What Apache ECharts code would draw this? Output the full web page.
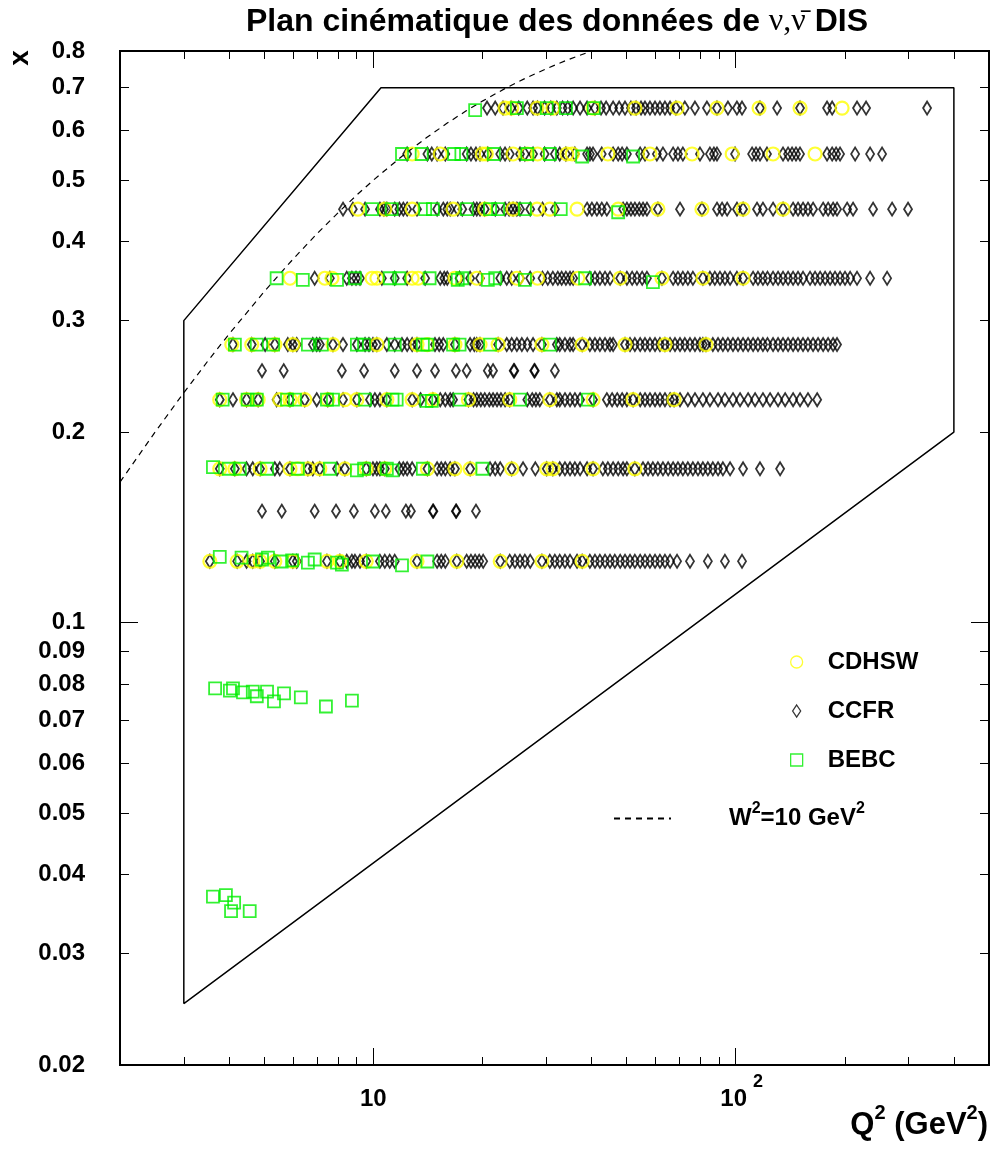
<!DOCTYPE html>
<html><head><meta charset="utf-8">
<script src="https://cdn.jsdelivr.net/npm/echarts@6/dist/echarts.min.js"></script>
<style>html,body{margin:0;padding:0;background:#fff}#c{width:991px;height:1156px}</style>
</head><body><div id="c"></div>
<script>
// ---------------- data ----------------
const cdhswBins = [0.65, 0.55, 0.45, 0.35, 0.275, 0.225, 0.175, 0.125];
const cdhswQ2 = [
  [23.1, 24.1, 28.3, 31.3, 40.4, 52.7, 68.9, 88.8, 116.0, 150.5, 196.6],
  [12.8, 15.3, 20.0, 20.5, 24.3, 26.6, 28.4, 34.2, 35.4, 44.4, 58.0, 75.8, 97.8, 126.8, 165.6],
  [9.07, 10.76, 12.8, 16.6, 20.3, 24.3, 28.3, 30.7, 36.5, 47.4, 61.0, 80.7, 104.8, 135.1],
  [5.89, 7.35, 7.69, 9.92, 10.23, 12.8, 13.3, 16.8, 19.3, 24.9, 28.4, 36.7, 48.0, 62.6, 81.2, 104.8],
  [4.07, 4.62, 5.35, 6.00, 7.74, 10.23, 13.2, 14.1, 16.8, 19.7, 22.1, 29.2, 37.7, 49.5, 63.8, 82.8],
  [3.77, 4.47, 4.81, 5.52, 5.89, 6.47, 7.49, 8.35, 9.01, 10.9, 12.8, 14.6, 18.3, 23.8, 30.7, 40.4, 52.1, 67.6],
  [3.77, 4.15, 4.87, 5.89, 6.19, 6.60, 7.12, 8.35, 9.56, 10.76, 14.1, 16.8, 18.5, 24.1, 30.1, 31.3, 40.4, 52.7],
  [3.54, 4.21, 4.65, 4.87, 5.35, 6.00, 7.45, 8.09, 9.56, 13.2, 17.0, 22.4, 29.2, 37.7]
];
const ccfrBins = [0.65, 0.55, 0.45, 0.35, 0.275, 0.25, 0.225, 0.175, 0.15, 0.125];
const ccfrQ2 = [
  [20.6, 21.7, 22.8, 24.0, 25.2, 26.6, 27.6, 28.4, 29.7, 30.9, 32.1, 33.3, 34.4, 35.6, 37.2, 38.9, 40.9, 42.5, 43.9, 45.9, 47.7, 49.5, 51.4, 53.1, 54.8, 56.2, 58.0, 59.9, 61.8, 63.8, 65.9, 68.4, 72.4, 77.2, 83.3, 88.8, 95.2, 100.8, 104.1, 116.7, 130.1, 150.5, 178.7, 184.6, 216.2, 229.0, 337.4],
  [12.4, 14.1, 14.5, 15.0, 15.8, 18.1, 18.6, 19.2, 19.7, 20.7, 22.4, 23.1, 23.8, 25.4, 26.2, 27.6, 29.7, 31.7, 32.7, 34.0, 36.0, 38.9, 39.6, 40.4, 42.7, 45.9, 47.4, 48.6, 50.1, 54.5, 56.2, 60.6, 63.0, 67.2, 69.3, 71.5, 79.7, 84.9, 87.1, 88.8, 99.6, 111.0, 113.8, 116.7, 122.0, 135.1, 139.5, 143.1, 146.7, 150.5, 178.7, 184.6, 189.3, 194.1, 213.6, 234.9, 253.5],
  [8.25, 8.78, 9.49, 10.43, 10.70, 10.90, 11.46, 11.8, 12.1, 12.4, 13.2, 15.0, 15.6, 16.0, 16.3, 17.1, 17.6, 18.9, 19.3, 19.7, 20.3, 21.7, 23.1, 23.7, 24.3, 24.9, 25.4, 27.1, 29.3, 31.7, 38.9, 40.1, 41.4, 42.7, 44.1, 48.9, 50.1, 51.4, 52.7, 54.2, 55.5, 56.9, 61.0, 70.2, 80.7, 88.8, 91.7, 94.7, 100.8, 104.8, 114.5, 118.9, 126.8, 135.1, 144.0, 148.6, 153.4, 158.3, 163.5, 174.3, 179.9, 185.7, 190.4, 203.0, 210.8, 239.4, 270.1, 298.9],
  [6.89, 7.59, 8.45, 8.73, 8.96, 9.19, 10.56, 11.46, 12.4, 13.9, 15.3, 15.7, 16.0, 17.3, 18.5, 19.7, 22.4, 23.35, 24.1, 25.4, 27.1, 29.3, 30.3, 31.3, 32.3, 33.1, 34.0, 34.9, 35.6, 39.6, 40.9, 42.2, 43.6, 45.0, 48.0, 50.1, 51.8, 53.4, 55.2, 56.9, 62.6, 67.2, 69.3, 71.5, 73.8, 76.2, 81.2, 84.9, 87.6, 90.5, 93.4, 96.5, 100.8, 104.8, 111.7, 115.2, 118.9, 122.4, 126.8, 130.9, 135.1, 139.5, 144.0, 148.6, 153.4, 160.4, 165.6, 171.0, 176.5, 182.2, 188.0, 194.1, 200.3, 206.9, 216.2, 234.9, 261.7],
  [4.10, 4.62, 5.03, 5.35, 5.81, 6.00, 6.15, 6.81, 6.98, 7.12, 7.74, 8.25, 9.01, 9.49, 9.73, 9.98, 10.23, 10.90, 11.46, 12.0, 12.4, 12.8, 13.2, 14.8, 15.2, 15.6, 16.8, 18.5, 19.0, 19.3, 19.7, 22.1, 23.35, 24.1, 24.9, 25.7, 26.6, 27.6, 29.2, 32.1, 32.7, 33.8, 34.9, 35.6, 37.7, 39.6, 40.9, 42.2, 43.6, 45.0, 45.9, 49.5, 51.1, 52.7, 54.5, 56.2, 58.0, 59.9, 61.8, 63.8, 65.9, 68.0, 70.2, 72.4, 74.8, 77.2, 79.7, 81.2, 82.8, 86.5, 89.4, 92.2, 95.2, 98.3, 101.5, 104.8, 108.2, 111.7, 115.2, 118.9, 122.4, 126.8, 130.9, 135.1, 139.5, 144.0, 148.6, 153.4, 158.3, 163.5, 168.8, 174.3, 179.9, 185.7, 190.4],
  [4.93, 5.66, 8.19, 9.43, 11.46, 13.2, 14.8, 16.9, 18.1, 20.7, 21.4, 24.4, 24.5, 27.8, 27.9, 31.7],
  [3.77, 4.10, 4.47, 4.81, 5.41, 5.89, 6.47, 6.98, 7.49, 8.25, 9.01, 9.79, 10.1, 10.43, 10.9, 12.8, 13.5, 14.6, 15.3, 15.8, 16.3, 16.6, 18.3, 18.9, 19.3, 19.8, 20.3, 20.9, 21.4, 21.95, 22.5, 23.1, 23.8, 26.6, 27.45, 28.1, 28.8, 30.7, 32.1, 32.7, 33.8, 34.9, 36.0, 37.2, 40.4, 44.1, 45.6, 47.1, 48.6, 50.1, 52.1, 54.5, 56.2, 58.0, 59.9, 61.8, 63.8, 65.9, 67.6, 70.2, 73.8, 77.2, 81.2, 84.9, 89.4, 93.4, 98.3, 102.8, 108.2, 113.1, 118.9, 124.4, 130.9, 136.9, 144.0, 150.5, 158.3, 167.8],
  [3.77, 4.15, 4.47, 4.65, 4.87, 5.35, 5.52, 5.89, 6.60, 6.81, 7.12, 7.94, 8.35, 9.56, 9.98, 10.23, 10.43, 10.76, 11.8, 12.1, 12.4, 12.8, 14.1, 15.0, 15.4, 15.8, 16.3, 16.8, 18.5, 21.0, 21.7, 22.4, 24.1, 25.9, 28.0, 30.1, 31.3, 32.7, 33.8, 34.9, 36.0, 37.2, 38.9, 40.4, 43.0, 44.4, 45.9, 47.4, 48.9, 50.1, 52.7, 55.5, 57.3, 59.1, 61.0, 63.0, 65.1, 67.2, 69.3, 71.5, 73.8, 76.2, 78.7, 81.2, 83.8, 86.5, 89.4, 92.2, 96.5, 104.8, 116.7, 132.6],
  [4.93, 5.59, 6.89, 7.89, 8.84, 10.1, 10.83, 12.3, 12.7, 14.6, 14.65, 16.9, 16.95, 19.2],
  [3.54, 4.21, 4.47, 4.65, 4.87, 5.35, 6.00, 6.15, 7.45, 8.09, 8.45, 8.73, 8.90, 9.19, 9.56, 10.43, 10.76, 11.1, 11.46, 13.2, 15.0, 15.4, 15.8, 17.0, 18.1, 18.6, 19.1, 19.6, 20.1, 22.4, 23.8, 24.6, 25.4, 26.2, 27.1, 29.2, 30.7, 31.7, 32.7, 33.8, 34.9, 36.5, 37.7, 39.6, 40.9, 42.2, 43.6, 45.0, 46.4, 48.0, 49.5, 51.1, 52.7, 54.5, 56.2, 58.0, 59.9, 61.8, 63.8, 65.9, 68.9, 74.8, 83.8, 93.4, 104.1]
];
// BEBC points: [Q2, x]
const bebcPoints = [
  [19.1,0.645],[24.9,0.65],[30.1,0.65],[34.0,0.65],[40.6,0.65],
  [12.0,0.55],[13.6,0.55],[16.7,0.55],[17.5,0.55],[21.5,0.55],[26.6,0.55],[30.7,0.55],[37.7,0.545],[52.1,0.545],
  [9.92,0.45],[11.24,0.45],[13.9,0.45],[14.6,0.45],[18.1,0.45],[21.0,0.45],[22.1,0.45],[26.2,0.45],[32.9,0.45],[47.4,0.445],
  [5.41,0.35],[6.39,0.348],[7.94,0.348],[8.90,0.35],[11.1,0.35],[11.8,0.35],[14.3,0.35],[17.1,0.348],[17.6,0.35],[20.7,0.348],[21.7,0.35],[26.2,0.348],[38.4,0.35],[59.1,0.345],
  [4.15,0.275],[4.77,0.275],[5.29,0.275],[6.60,0.275],[7.21,0.275],[9.01,0.275],[9.43,0.275],[11.46,0.275],[13.7,0.275],[14.1,0.275],[16.6,0.275],[17.3,0.275],[21.0,0.275],[30.7,0.275],
  [3.84,0.225],[4.50,0.225],[4.77,0.225],[5.78,0.225],[6.08,0.225],[7.45,0.225],[7.74,0.225],[9.49,0.225],[11.3,0.225],[11.6,0.225],[14.0,0.224],[14.5,0.224],[17.3,0.225],[25.4,0.225],[39.1,0.225],
  [3.61,0.176],[3.99,0.175],[4.28,0.175],[5.09,0.175],[6.19,0.175],[7.59,0.175],[9.01,0.174],[9.43,0.175],[10.90,0.175],[11.3,0.174],[13.7,0.175],[20.0,0.175],
  [3.77,0.127],[4.33,0.1267],[4.93,0.1258],[5.12,0.1267],[5.59,0.1249],[5.97,0.1254],[6.60,0.1244],[6.89,0.1258],[7.94,0.1244],[8.19,0.1235],[9.98,0.1249],[12.0,0.1231],[14.1,0.1249],
  [3.66,0.0787],[4.02,0.0781],[4.10,0.0787],[4.37,0.0776],[4.65,0.0778],[4.77,0.0765],[5.09,0.0778],[5.32,0.0751],[5.67,0.0773],[6.31,0.0762],[7.40,0.0737],[8.73,0.0753],
  [3.61,0.0369],[3.92,0.0371],[4.13,0.0361],[4.05,0.035],[4.56,0.035]
];
const boundaryQ2 = [3, 3, 10.5, 400, 400, 3];
const boundaryX  = [0.025, 0.3, 0.7, 0.7, 0.2, 0.025];
const w2Q2 = [2, 2.5, 3, 3.5, 4, 5, 6, 7, 8, 9, 10, 12, 14, 16, 18, 20, 23, 26, 30, 34, 40];
const w2X  = [0.1667, 0.2, 0.2308, 0.2593, 0.2857, 0.3333, 0.375, 0.4118, 0.4444, 0.4737, 0.5, 0.5455, 0.5833, 0.6154, 0.6429, 0.6667, 0.697, 0.7222, 0.75, 0.7727, 0.8];
const xRange = [2, 500];
const yRange = [0.02, 0.8];
const xTickMinor = [3,4,5,6,7,8,9,20,30,40,50,60,70,80,90,200,300,400];
const xTickMajor = [10, 100];
const yTickMinor = [0.03,0.04,0.05,0.06,0.07,0.08,0.09,0.2,0.3,0.4,0.5,0.6,0.7];
const yTickMajor = [0.1];
const yTickLabels = [0.02,0.03,0.04,0.05,0.06,0.07,0.08,0.09,0.1,0.2,0.3,0.4,0.5,0.6,0.7,0.8];

// ---------------- helpers ----------------
const L = v => Math.log10(v);
const FONT = '"Liberation Sans", Arial, Helvetica, sans-serif';
const SERIF = '"Liberation Serif", "DejaVu Serif", serif';
function binPts(bins, rows) {
  const out = [];
  rows.forEach((row, i) => row.forEach(q => out.push([L(q), L(bins[i])])));
  return out;
}
const xMin = L(xRange[0]), xMax = L(xRange[1]);
const yMin = L(yRange[0]), yMax = L(yRange[1]);

function xAx(pos, ticks, len, label) {
  return {
    type: 'value', position: pos, min: xMin, max: xMax, scale: true,
    axisLine: {show: true, onZero: false, lineStyle: {color: '#000', width: 2}},
    axisTick: {show: true, inside: true, length: len, customValues: ticks.map(L), lineStyle: {color: '#000', width: 1}},
    splitLine: {show: false},
    axisLabel: label || {show: false}
  };
}
function yAx(pos, ticks, len, label) {
  return {
    type: 'value', position: pos, min: yMin, max: yMax, scale: true,
    axisLine: {show: true, onZero: false, lineStyle: {color: '#000', width: 2}},
    axisTick: {show: true, inside: true, length: len, customValues: ticks.map(L), lineStyle: {color: '#000', width: 1}},
    splitLine: {show: false},
    axisLabel: label || {show: false}
  };
}

const xLabel = {
  show: true, customValues: xTickMajor.map(L), margin: 8,
  showMinLabel: true, showMaxLabel: true,
  formatter: v => { const e = Math.round(v); return e === 1 ? '{b|10}' : '{bp|10}{s|' + e + '}'; },
  rich: {
    b:  {fontSize: 24, fontWeight: 'bold', fontFamily: FONT, color: '#000', lineHeight: 52},
    bp: {fontSize: 24, fontWeight: 'bold', fontFamily: FONT, color: '#000', lineHeight: 52, padding: [0, 0, 0, 12]},
    s:  {fontSize: 18, fontWeight: 'bold', fontFamily: FONT, color: '#000', lineHeight: 18, verticalAlign: 'top', padding: [0, 0, 0, 6]}
  }
};
const yLabel = {
  show: true, customValues: yTickLabels.map(L), margin: 35,
  showMinLabel: true, showMaxLabel: true,
  fontSize: 24, fontWeight: 'bold', fontFamily: FONT, color: '#000',
  formatter: v => String(parseFloat(Math.pow(10, v).toPrecision(2)))
};

const richLegend = {
  b: {fontSize: 24, fontWeight: 'bold', fontFamily: FONT, color: '#000', lineHeight: 35},
  s: {fontSize: 16, fontWeight: 'bold', fontFamily: FONT, color: '#000', lineHeight: 16, verticalAlign: 'top'}
};
const richAxisTitle = {
  b: {fontSize: 31, fontWeight: 'bold', fontFamily: FONT, color: '#000', lineHeight: 45},
  s: {fontSize: 20, fontWeight: 'bold', fontFamily: FONT, color: '#000', lineHeight: 20, verticalAlign: 'top'}
};

const option = {
  animation: false,
  backgroundColor: '#fff',
  title: [
    {
      text: '{t|Plan cinématique des données de }{g|ν,ν\u0304}{t| DIS}',
      left: 557, top: 6, textAlign: 'center', padding: 0,
      textStyle: {
        rich: {
          t: {fontSize: 32, fontWeight: 'bold', fontFamily: FONT, color: '#000'},
          g: {fontSize: 32, fontWeight: 'normal', fontFamily: SERIF, color: '#000'}
        }
      }
    },
    {
      text: '{b|Q}{s|2}{b| (GeV}{s|2}{b|)}',
      left: 988, top: 1103, textAlign: 'right', padding: 0,
      textStyle: {rich: richAxisTitle}
    }
  ],
  graphic: [
    {type: 'text', x: 20, y: 58, rotation: Math.PI / 2,
     style: {text: 'x', fontSize: 28, fontWeight: 'bold', fontFamily: FONT, fill: '#000', align: 'center', verticalAlign: 'middle'}}
  ],
  grid: {left: 120, right: 2, top: 51, bottom: 91, containLabel: false},
  xAxis: [
    xAx('bottom', xTickMinor, 8, xLabel),
    xAx('bottom', xTickMajor, 17),
    xAx('top', xTickMinor, 8),
    xAx('top', xTickMajor, 17)
  ],
  yAxis: [
    yAx('left', yTickMinor, 9, yLabel),
    yAx('left', yTickMajor, 18),
    yAx('right', yTickMinor, 9),
    yAx('right', yTickMajor, 18)
  ],
  legend: [
    {
      data: [
        {name: 'CDHSW', icon: 'circle'},
        {name: 'CCFR', icon: 'path://M4 0L8 6L4 12L0 6Z'},
        {name: 'BEBC', icon: 'path://M0 0L12 0L12 12L0 12Z'}
      ],
      orient: 'vertical', left: 790, top: 650, padding: 0,
      itemWidth: 52, itemHeight: 12, itemGap: 25, selectedMode: false,
      symbolKeepAspect: true,
      itemStyle: {borderWidth: 1.3},
      textStyle: {fontSize: 24, fontWeight: 'bold', fontFamily: FONT, color: '#000', lineHeight: 24}
    },
    {
      data: [{name: 'W2', itemStyle: {color: 'rgba(0,0,0,0)', borderColor: 'rgba(0,0,0,0)', borderWidth: 0, opacity: 0}}],
      left: 613, top: 801, padding: 0,
      itemWidth: 57, itemHeight: 12, selectedMode: false,
      formatter: () => '{b|W}{s|2}{b|=10 GeV}{s|2}',
      textStyle: {rich: richLegend, padding: [0, 0, 0, 53]}
    }
  ],
  series: [
    {
      type: 'line', data: boundaryQ2.map((q, i) => [L(q), L(boundaryX[i])]),
      symbol: 'none', silent: true, lineStyle: {color: '#000', width: 1.5}, z: 2
    },
    {
      type: 'line', name: 'W2', data: w2Q2.map((q, i) => [L(q), L(w2X[i])]),
      symbol: 'none', showSymbol: false, silent: true, smooth: false,
      itemStyle: {color: '#000'},
      lineStyle: {color: '#000', width: 1.2, type: [6, 5]}, z: 2
    },
    {
      type: 'scatter', name: 'CCFR', data: binPts(ccfrBins, ccfrQ2),
      symbol: 'diamond', symbolSize: [8, 13], silent: true,
      itemStyle: {color: 'transparent', borderColor: '#000', borderWidth: 1.9}, z: 3
    },
    {
      type: 'scatter', name: 'CDHSW', data: binPts(cdhswBins, cdhswQ2),
      symbol: 'circle', symbolSize: 13, silent: true,
      itemStyle: {color: 'transparent', borderColor: '#ffff00', borderWidth: 2.2}, z: 4
    },
    {
      type: 'scatter', name: 'BEBC', data: bebcPoints.map(p => [L(p[0]), L(p[1])]),
      symbol: 'rect', symbolSize: 12, silent: true,
      itemStyle: {color: 'transparent', borderColor: '#00ee00', borderWidth: 1.8}, z: 5
    }
  ]
};

const chart = echarts.init(document.getElementById('c'), null, {renderer: 'canvas'});
chart.setOption(option);
</script>
</body></html>
